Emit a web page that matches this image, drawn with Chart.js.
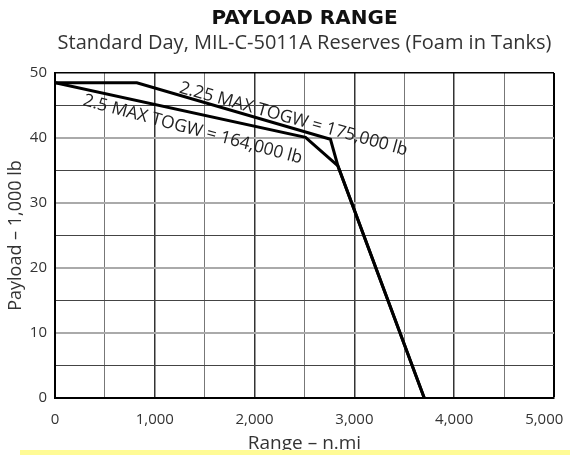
<!DOCTYPE html>
<html>
<head>
<meta charset="utf-8">
<script src="https://cdn.jsdelivr.net/npm/chart.js@4.4.1/dist/chart.umd.min.js"></script>
<style>
  html, body { margin:0; padding:0; background:#fff; }
  #wrap { position:relative; width:570px; height:455px; }
  #barra { position:absolute; left:20px; top:450px; width:550px; height:5px; background:#fffb95; }
</style>
</head>
<body>
<div id="wrap">
  <canvas id="grafico" width="570" height="455"></canvas>
  <div id="barra"></div>
</div>
<script>
// datos (rango en n.mi, carga util en 1,000 lb)
const rango175 = [0, 820, 2760, 2835, 3700];
const carga175 = [48.5, 48.5, 39.8, 35.7, 0];
const rango164 = [0, 2510, 2835, 3700];
const carga164 = [48.5, 40.1, 35.7, 0];
const etiqueta175 = '2.25 MAX TOGW = 175,000 lb';
const etiqueta164 = '2.5 MAX TOGW = 164,000 lb';
const ticksRango = [0, 1000, 2000, 3000, 4000, 5000];
const ticksCarga = [0, 10, 20, 30, 40, 50];

const fuente = '"Open Sans", "Noto Sans", sans-serif';

// textos girados sobre las curvas
const rotulos = {
  id: 'rotulos',
  afterDatasetsDraw(chart) {
    const x = chart.scales.x, y = chart.scales.y, ctx = chart.ctx;
    const poner = (txt, cx, cy, grados) => {
      ctx.save();
      ctx.translate(x.getPixelForValue(cx), y.getPixelForValue(cy));
      ctx.rotate(grados * Math.PI / 180);
      ctx.font = '17.5px ' + fuente;
      ctx.fillStyle = '#222';
      ctx.textAlign = 'center';
      ctx.textBaseline = 'middle';
      ctx.fillText(txt, 0, 0);
      ctx.restore();
    };
    poner(etiqueta175, 2390, 42.9, 15.5);
    poner(etiqueta164, 1380, 41.3, 15);
  }
};

new Chart(document.getElementById('grafico'), {
  type: 'line',
  data: {
    datasets: [
      { label: etiqueta175, data: rango175.map((r, i) => ({ x: r, y: carga175[i] })),
        borderColor: '#000', borderWidth: 3, pointRadius: 0, tension: 0 },
      { label: etiqueta164, data: rango164.map((r, i) => ({ x: r, y: carga164[i] })),
        borderColor: '#000', borderWidth: 3, pointRadius: 0, tension: 0 }
    ]
  },
  options: {
    responsive: false,
    animation: false,
    layout: { padding: { left: 0, right: 16, top: 0, bottom: 0 } },
    plugins: {
      legend: { display: false },
      tooltip: { enabled: false },
      title: { display: true, fullSize: false, text: 'PAYLOAD RANGE', color: '#111',
        font: { family: '"DejaVu Sans", sans-serif', size: 20, weight: 'bold' }, padding: { top: 7, bottom: 0 } },
      subtitle: { display: true, fullSize: false, text: 'Standard Day, MIL-C-5011A Reserves (Foam in Tanks)', color: '#333',
        font: { family: fuente, size: 20 }, padding: { top: 0, bottom: 18 } }
    },
    scales: {
      x: {
        type: 'linear', min: 0, max: 5000,
        afterFit: s => { s.height = 57; s.paddingLeft = 0; s.paddingRight = 0; },
        afterBuildTicks: s => { s.ticks = []; for (let v = 0; v <= 5000; v += 500) s.ticks.push({ value: v }); },
        ticks: { color: '#333', padding: 13, font: { family: fuente, size: 15 }, maxRotation: 0, autoSkip: false,
          // el ultimo rotulo va corrido a la izquierda como en el original
          callback: v => !ticksRango.includes(v) ? '' : (v === 5000 ? v.toLocaleString('en-US') + '     ' : v.toLocaleString('en-US')) },
        grid: { drawTicks: false,
          color: c => c.tick.value === 5000 ? '#000' : (c.tick.value % 1000 === 0 ? '#333' : '#777'),
          lineWidth: c => c.tick.value === 5000 ? 2 : (c.tick.value % 1000 === 0 ? 1.5 : 1) },
        border: { color: '#000', width: 2 },
        title: { display: true, text: 'Range – n.mi', color: '#333', font: { family: fuente, size: 19 }, padding: { top: 0, bottom: 0 } }
      },
      y: {
        type: 'linear', min: 0, max: 50,
        afterFit: s => { s.width = 55; s.paddingTop = 0; s.paddingBottom = 0; },
        afterBuildTicks: s => { s.ticks = []; for (let v = 0; v <= 50; v += 5) s.ticks.push({ value: v }); },
        ticks: { color: '#333', padding: 8, font: { family: fuente, size: 15 }, autoSkip: false,
          callback: v => ticksCarga.includes(v) ? v : '' },
        grid: { drawTicks: false,
          color: c => c.tick.value === 50 ? '#000' : (c.tick.value % 10 === 0 ? '#aaa' : '#444'),
          lineWidth: c => c.tick.value === 50 ? 1.5 : (c.tick.value % 10 === 0 ? 2 : 1) },
        border: { color: '#000', width: 2 },
        title: { display: true, text: 'Payload – 1,000 lb', color: '#333', font: { family: fuente, size: 18 }, padding: { top: 5, bottom: 0 } }
      }
    }
  },
  plugins: [rotulos]
});
</script>
</body>
</html>
